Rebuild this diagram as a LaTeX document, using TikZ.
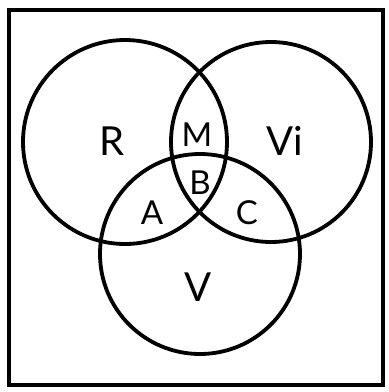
\documentclass[tikz,border=0pt]{standalone}
\usepackage{fontspec}
\setmainfont{Lato}
\begin{document}
\begin{tikzpicture}[x=1pt,y=-1pt,
  ring/.style={draw=black,line width=3.8pt},
  big/.style={font=\fontsize{40}{40}\selectfont},
  small/.style={font=\fontsize{33}{33}\selectfont}]
\useasboundingbox (0,0) rectangle (389,392);
\draw[line width=3.5pt] (9,10) rectangle (383,385);
\draw[ring] (125,142) circle (102);
\draw[ring] (271,142) circle (100);
\draw[ring] (200,254) circle (100);
\node[big] (r) at (112,141) {R};
\node[big] (vi) at (285,141) {Vi};
\node[big] (v) at (198,287) {V};
\node[small] (m) at (197,135) {M};
\node[small] (b) at (200,183) {B};
\node[small] (a) at (152,213) {A};
\node[small] (c) at (247,213) {C};
\end{tikzpicture}
\end{document}
